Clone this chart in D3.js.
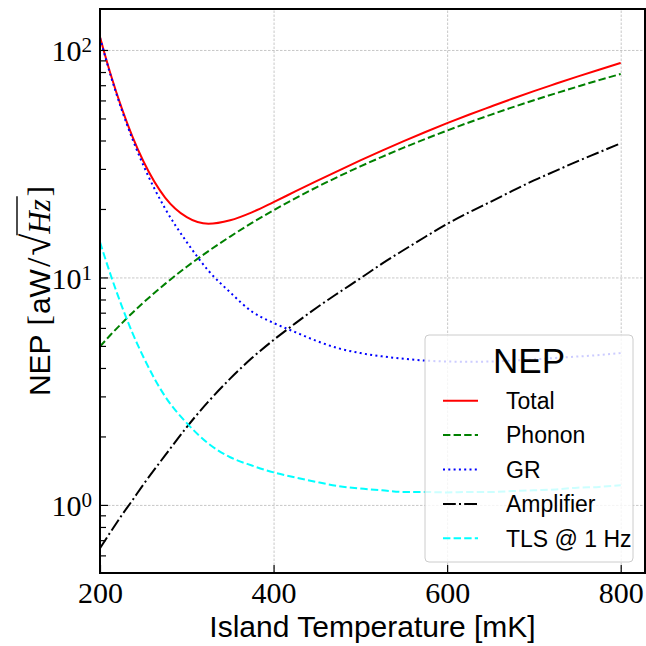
<!DOCTYPE html>
<html>
<head>
<meta charset="utf-8">
<script src="https://cdn.jsdelivr.net/npm/d3@7"></script>
<style>
  body { margin: 0; background: #fff; }
</style>
</head>
<body>
<div id="chart"></div>
<script>
// island temperature [mK]
const temps = [200, 212.5, 225, 237.5, 250, 275, 300, 325, 350, 375, 400, 425, 450, 475,
  500, 525, 550, 575, 600, 625, 650, 675, 700, 725, 750, 775, 800];

// NEP components [aW/sqrt(Hz)]
const total = [114.0, 77.6, 55.5, 41.5, 32.4, 22.44, 18.4, 17.22, 17.84, 19.33, 21.44, 23.88, 26.57, 29.51,
  32.69, 36.11, 39.74, 43.58, 47.67, 51.92, 56.32, 61.03, 65.96, 71.0, 76.34, 81.92, 87.66];
const phonon = [4.97, 5.61, 6.28, 7.0, 7.75, 9.37, 11.14, 13.06, 15.13, 17.37, 19.74, 22.27, 24.96, 27.79,
  30.78, 33.91, 37.21, 40.64, 44.24, 48.0, 51.87, 55.93, 60.15, 64.46, 68.97, 73.68, 78.41];
const gr = [113, 76.7, 54.6, 40.5, 31.1, 20.1, 14.3, 10.7, 8.6, 7.08, 6.31, 5.75, 5.25, 4.88,
  4.65, 4.5, 4.39, 4.31, 4.27, 4.26, 4.27, 4.31, 4.36, 4.43, 4.49, 4.56, 4.65];
const amplifier = [0.645, 0.764, 0.9, 1.05, 1.23, 1.65, 2.2, 2.85, 3.59, 4.42, 5.31, 6.28, 7.38, 8.57,
  9.91, 11.5, 13.2, 15.1, 17.2, 19.3, 21.5, 24.0, 26.7, 29.4, 32.4, 35.5, 38.9];
const tls = [14.3, 10.2, 7.5, 5.69, 4.47, 3.0, 2.29, 1.86, 1.62, 1.49, 1.39, 1.32, 1.26, 1.21,
  1.18, 1.16, 1.14, 1.14, 1.135, 1.14, 1.14, 1.15, 1.16, 1.17, 1.19, 1.2, 1.22];

const legendLabels = ["Total", "Phonon", "GR", "Amplifier", "TLS @ 1 Hz"];
const xTicks = [200, 400, 600, 800];
const yTicks = [1, 10, 100];
const yMinorTicks = [0.6, 0.7, 0.8, 0.9, 2, 3, 4, 5, 6, 7, 8, 9, 20, 30, 40, 50, 60, 70, 80, 90];

const width = 646;
const height = 646;
const plot = { left: 100, right: 645, top: 9, bottom: 573 };
const sans = "'Liberation Sans', Arial, sans-serif";
const serif = "'Liberation Serif', 'Times New Roman', serif";

const xScale = d3
  .scaleLinear()
  .domain([200, 828])
  .range([plot.left, plot.right]);

const yScale = d3
  .scaleLog()
  .domain([0.502, 151.4])
  .range([plot.bottom, plot.top]);

const svg = d3
  .select("#chart")
  .append("svg")
  .attr("width", width)
  .attr("height", height);

svg
  .append("defs")
  .append("clipPath")
  .attr("id", "clip")
  .append("rect")
  .attr("x", plot.left)
  .attr("y", plot.top)
  .attr("width", plot.right - plot.left)
  .attr("height", plot.bottom - plot.top);

// grid
const gridStyle = g => {
  g.select(".domain").remove();
  g.selectAll("line")
    .attr("stroke", "#b0b0b0")
    .attr("stroke-width", 0.7)
    .attr("stroke-dasharray", "2.5,1.5");
};

svg
  .append("g")
  .attr("transform", `translate(0,${plot.bottom})`)
  .call(d3.axisBottom(xScale).tickValues(xTicks).tickSize(-(plot.bottom - plot.top)).tickFormat(""))
  .call(gridStyle);

svg
  .append("g")
  .attr("transform", `translate(${plot.left},0)`)
  .call(d3.axisLeft(yScale).tickValues(yTicks).tickSize(-(plot.right - plot.left)).tickFormat(""))
  .call(gridStyle);

// curves
const series = [
  { values: total, color: "#ff0000", dash: null },
  { values: phonon, color: "#008000", dash: "7.4,3.2" },
  { values: gr, color: "#0000ff", dash: "2,3.3" },
  { values: amplifier, color: "#000000", dash: "12.8,3.2,2,3.2" },
  { values: tls, color: "#00ffff", dash: "7.4,3.2" }
];

const graphLine = d3
  .line()
  .x((d, i) => xScale(temps[i]))
  .y(d => yScale(d))
  .curve(d3.curveMonotoneX);

svg
  .append("g")
  .attr("clip-path", "url(#clip)")
  .selectAll("path")
  .data(series)
  .enter()
  .append("path")
  .attr("d", d => graphLine(d.values))
  .attr("fill", "none")
  .attr("stroke", d => d.color)
  .attr("stroke-width", 2)
  .attr("stroke-dasharray", d => d.dash);

// ticks (pointing inward)
const tickStyle = g => {
  g.select(".domain").remove();
  g.attr("font-family", serif).attr("font-size", 30);
  g.selectAll("line").attr("stroke", "#000").attr("stroke-width", 1.2);
  g.selectAll("text").attr("fill", "#000");
};

svg
  .append("g")
  .attr("transform", `translate(0,${plot.bottom})`)
  .call(d3.axisBottom(xScale).tickValues(xTicks).tickSizeInner(-8).tickPadding(9))
  .call(tickStyle);

svg
  .append("g")
  .attr("transform", `translate(${plot.left},0)`)
  .call(d3.axisLeft(yScale).tickValues(yMinorTicks).tickSize(-6).tickFormat(""))
  .call(tickStyle);

svg
  .append("g")
  .attr("transform", `translate(${plot.left},0)`)
  .call(d3.axisLeft(yScale).tickValues(yTicks).tickSizeInner(-8).tickPadding(8))
  .call(tickStyle)
  .call(g => {
    const labels = g.selectAll("text").attr("dy", "0.36em").text(null);
    labels.append("tspan").text("10");
    labels
      .append("tspan")
      .attr("dy", "-0.42em")
      .attr("font-size", 21)
      .text(d => Math.round(Math.log10(d)));
  });

// frame
svg
  .append("rect")
  .attr("x", plot.left)
  .attr("y", plot.top)
  .attr("width", plot.right - plot.left)
  .attr("height", plot.bottom - plot.top)
  .attr("fill", "none")
  .attr("stroke", "#000")
  .attr("stroke-width", 2);

// x label
svg
  .append("text")
  .attr("x", (plot.left + plot.right) / 2)
  .attr("y", 637)
  .attr("text-anchor", "middle")
  .attr("font-family", sans)
  .attr("font-size", 30)
  .text("Island Temperature [mK]");

// y label: NEP [aW/sqrt(Hz)], built piece by piece
const yLabel = svg
  .append("g")
  .attr("transform", `translate(50,${(plot.top + plot.bottom) / 2}) rotate(-90)`);

const pieces = [
  { t: "NEP", f: sans, s: 30, gap: 9 },
  { t: "[", f: serif, s: 31, gap: 1 },
  { t: "aW", f: sans, s: 30, gap: 2 },
  { t: "/", f: serif, s: 34, gap: 2 },
  { t: "\u221a", f: serif, s: 40, gap: 0, root: true },
  { t: "Hz", f: serif, s: 31, gap: 3, italic: true, under: true },
  { t: "]", f: serif, s: 31, gap: 0 }
];

let cursor = 0;
let overStart = 0;
let overEnd = 0;
let overY = -26;
pieces.forEach(p => {
  const node = yLabel
    .append("text")
    .attr("x", cursor)
    .attr("y", 0)
    .attr("font-family", p.f)
    .attr("font-size", p.s)
    .attr("font-style", p.italic ? "italic" : "normal")
    .text(p.t);
  const w = node.node().getComputedTextLength();
  if (p.root) {
    const box = node.node().getBBox();
    overStart = cursor + w - 1.5;
    overY = box.y + 3;
  }
  cursor += w + p.gap;
  if (p.under) overEnd = cursor;
});

yLabel
  .append("line")
  .attr("x1", overStart)
  .attr("x2", overEnd)
  .attr("y1", overY)
  .attr("y2", overY)
  .attr("stroke", "#000")
  .attr("stroke-width", 1.4);

yLabel.selectAll("text, line").attr("transform", `translate(${-cursor / 2},0)`);

// legend
const legend = svg.append("g");

legend
  .append("rect")
  .attr("x", 425)
  .attr("y", 335)
  .attr("width", 208)
  .attr("height", 227)
  .attr("rx", 4)
  .attr("fill", "#fff")
  .attr("fill-opacity", 0.8)
  .attr("stroke", "#cccccc")
  .attr("stroke-width", 1);

legend
  .append("text")
  .attr("x", 529)
  .attr("y", 373)
  .attr("text-anchor", "middle")
  .attr("font-family", sans)
  .attr("font-size", 35)
  .text("NEP");

const rows = legend
  .selectAll("g.row")
  .data(series)
  .enter()
  .append("g")
  .attr("class", "row")
  .attr("transform", (d, i) => `translate(0,${400.7 + i * 34.4})`);

rows
  .append("line")
  .attr("x1", 443)
  .attr("x2", 478)
  .attr("stroke", d => d.color)
  .attr("stroke-width", 2)
  .attr("stroke-dasharray", d => d.dash);

rows
  .append("text")
  .attr("x", 506)
  .attr("dy", "0.36em")
  .attr("font-family", sans)
  .attr("font-size", 23)
  .text((d, i) => legendLabels[i]);
</script>
</body>
</html>
